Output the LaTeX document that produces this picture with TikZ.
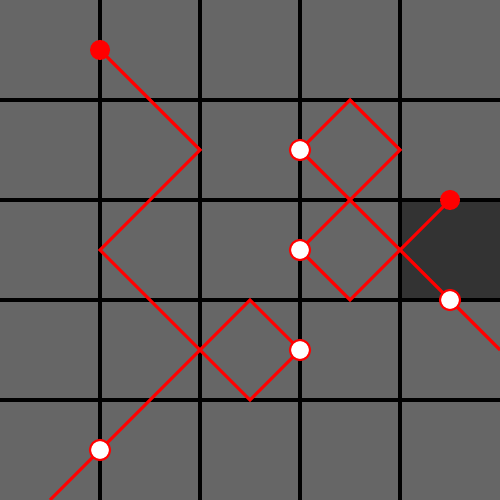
\documentclass[tikz,border=0pt]{standalone}
\usepackage{xcolor}
\usepackage{tikz}
\usetikzlibrary{calc}

\definecolor{cellgray}{HTML}{666666}
\definecolor{darkcell}{HTML}{333333}

\begin{document}
\begin{tikzpicture}[scale=1.0,
    ray/.style={red,line width=0.9pt,line join=miter},
    startdot/.style={circle,fill=red,inner sep=0pt,minimum size=2mm},
    hitdot/.style={circle,fill=white,draw=red,line width=0.6pt,inner sep=0pt,minimum size=2mm}]
    \useasboundingbox (0,0) rectangle (5,5);
    \fill[cellgray] (0,0) rectangle (5,5);
    \fill[darkcell] (4,2) rectangle (5,3);
    \foreach \k in {1,2,3,4}{
      \draw[black,line width=1.2pt] (\k,0) -- (\k,5);
      \draw[black,line width=1.2pt] (0,\k) -- (5,\k);
    }
    % dot positions
    \coordinate (sa) at (1,4.5);
    \coordinate (sb) at (4.5,3);
    \coordinate (h1) at (3,3.5);
    \coordinate (h2) at (3,2.5);
    \coordinate (h3) at (3,1.5);
    \coordinate (h4) at (4.5,2);
    \coordinate (h5) at (1,0.5);
    % corners of the reflected paths
    \coordinate (a1) at (2,3.5);
    \coordinate (a2) at (1,2.5);
    \coordinate (a3) at (2,1.5);
    \coordinate (a4) at (2.5,1);
    \coordinate (a5) at (2.5,2);
    \coordinate (aend) at (0.5,0);
    \coordinate (b1) at (3.5,4);
    \coordinate (b2) at (4,3.5);
    \coordinate (b3) at (3.5,3);
    \coordinate (b4) at (3.5,2);
    \coordinate (b5) at (4,2.5);
    \coordinate (bend) at (5,1.5);
    \draw[ray] (sa) -- (a1) -- (a2) -- (a3) -- (a4) -- (h3) -- (a5) -- (a3) -- (h5) -- (aend);
    \draw[ray] (h1) -- (b1) -- (b2) -- (b3) -- (h2) -- (b4) -- (b5) -- (sb);
    \draw[ray] (h1) -- (b3) -- (b5) -- (h4) -- (bend);
    % dots on top of the rays
    \node[startdot] (sadot) at (sa) {};
    \node[startdot] (sbdot) at (sb) {};
    \foreach \h in {h1,h2,h3,h4,h5}
      \node[hitdot] (\h dot) at (\h) {};
\end{tikzpicture}
\end{document}
